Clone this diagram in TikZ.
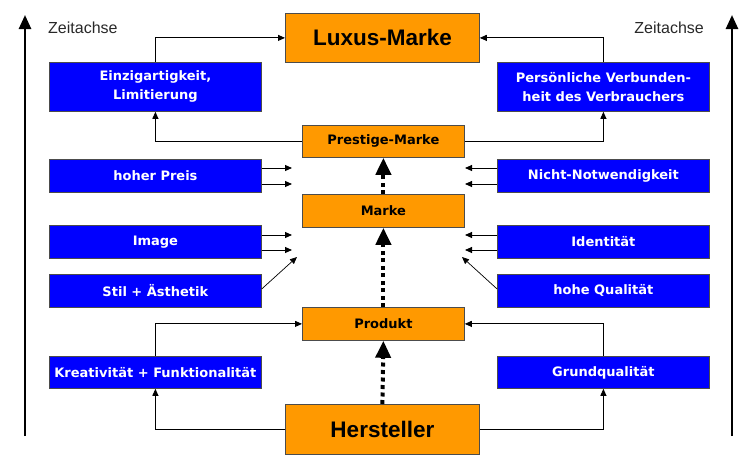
\documentclass[tikz,border=0pt]{standalone}
\usepackage{fontspec}
\setmainfont{DejaVu Sans}
\newfontfamily\arialfont{Liberation Sans}
\usetikzlibrary{arrows.meta}
\definecolor{boxblue}{RGB}{0,0,255}
\definecolor{boxorange}{RGB}{255,153,0}
\definecolor{axisgray}{RGB}{40,40,40}
\tikzset{
  bluebox/.style={draw=black!70, line width=0.8pt, fill=boxblue, text=white,
    font=\fontsize{13}{19}\selectfont\bfseries, align=center, inner sep=0pt,
    anchor=north west, minimum width=212pt, minimum height=33pt},
  orangebox/.style={draw=black!70, line width=0.8pt, fill=boxorange, text=black,
    font=\fontsize{13}{19}\selectfont\bfseries, align=center, inner sep=0pt,
    anchor=north west, minimum width=162pt, minimum height=33pt},
  bigorange/.style={orangebox, font=\arialfont\fontsize{22.5}{26}\selectfont\bfseries,
    minimum width=194pt, minimum height=49pt},
  conn/.style={line width=0.9pt, -{Triangle[length=7pt,width=6pt]}},
  flow/.style={line width=4pt, dash pattern=on 4pt off 3.5pt,
    -{Triangle[length=17pt,width=15pt]}},
  timeaxis/.style={line width=2.6pt, -{Triangle[length=14pt,width=12pt]}},
  axislabel/.style={font=\arialfont\fontsize{16}{19}\selectfont, text=axisgray, inner sep=0pt}
}
\begin{document}
\begin{tikzpicture}[x=1pt,y=-1pt]
\useasboundingbox (0,0) rectangle (740,455);
% time axes
\coordinate (la0) at (25,436);
\coordinate (la1) at (25,15);
\coordinate (ra0) at (732,436);
\coordinate (ra1) at (732,15);
\draw[timeaxis] (la0) -- (la1);
\draw[timeaxis] (ra0) -- (ra1);
\node[axislabel, anchor=base west] (zl) at (48,33) {Zeitachse};
\node[axislabel, anchor=base east] (zr) at (704,33) {Zeitachse};
% orange boxes
\node[bigorange] (lux) at (285,13) {Luxus-Marke};
\node[orangebox, minimum height=32pt] (pres) at (302,125) {Prestige-Marke};
\node[orangebox] (mar) at (302,194) {Marke};
\node[orangebox] (prod) at (302,307) {Produkt};
\node[bigorange, minimum height=50pt] (her) at (285,404) {Hersteller};
% blue boxes
\node[bluebox, minimum height=49pt] (einz) at (49,62) {Einzigartigkeit,\\Limitierung};
\node[bluebox, minimum height=49pt] (pers) at (497,62) {Persönliche Verbunden-\\heit des Verbrauchers};
\node[bluebox] (preis) at (49,159) {hoher Preis};
\node[bluebox] (nicht) at (497,159) {Nicht-Notwendigkeit};
\node[bluebox] (img) at (49,225) {Image};
\node[bluebox] (ident) at (497,225) {Identität};
\node[bluebox] (stil) at (49,274) {Stil + Ästhetik};
\node[bluebox] (qual) at (497,274) {hohe Qualität};
\node[bluebox, minimum height=32pt] (krea) at (49,356) {Kreativität + Funktionalität};
\node[bluebox, minimum height=32pt] (grund) at (497,356) {Grundqualität};
% elbow connectors
\draw[conn] (einz.north) |- (lux.west);
\draw[conn] (pers.north) |- (lux.east);
\draw[conn] (pres.west) -| (einz.south);
\draw[conn] (pres.east) -| (pers.south);
\draw[conn] (krea.north) |- (prod.west);
\draw[conn] (grund.north) |- (prod.east);
\draw[conn] (her.west) -| (krea.south);
\draw[conn] (her.east) -| (grund.south);
% free-end targets
\coordinate (tpl1) at (292,168);
\coordinate (tpl2) at (292,184);
\coordinate (tpr1) at (465,168);
\coordinate (tpr2) at (465,184);
\coordinate (til1) at (292,235);
\coordinate (til2) at (292,250);
\coordinate (tir1) at (465,235);
\coordinate (tir2) at (465,250);
\coordinate (tsl) at (297,257);
\coordinate (tsr) at (462,257);
\draw[conn] (preis.east |- tpl1) -- (tpl1);
\draw[conn] (preis.east |- tpl2) -- (tpl2);
\draw[conn] (nicht.west |- tpr1) -- (tpr1);
\draw[conn] (nicht.west |- tpr2) -- (tpr2);
\draw[conn] (img.east |- til1) -- (til1);
\draw[conn] (img.east |- til2) -- (til2);
\draw[conn] (ident.west |- tir1) -- (tir1);
\draw[conn] (ident.west |- tir2) -- (tir2);
\draw[conn, line width=0.7pt] ([yshift=2pt]stil.east) -- (tsl);
\draw[conn, line width=0.7pt] ([yshift=2pt]qual.west) -- (tsr);
% main flow
\draw[flow] (her.north) -- (prod.south);
\draw[flow] (prod.north) -- (mar.south);
\draw[flow] (mar.north) -- (pres.south);
\end{tikzpicture}
\end{document}
